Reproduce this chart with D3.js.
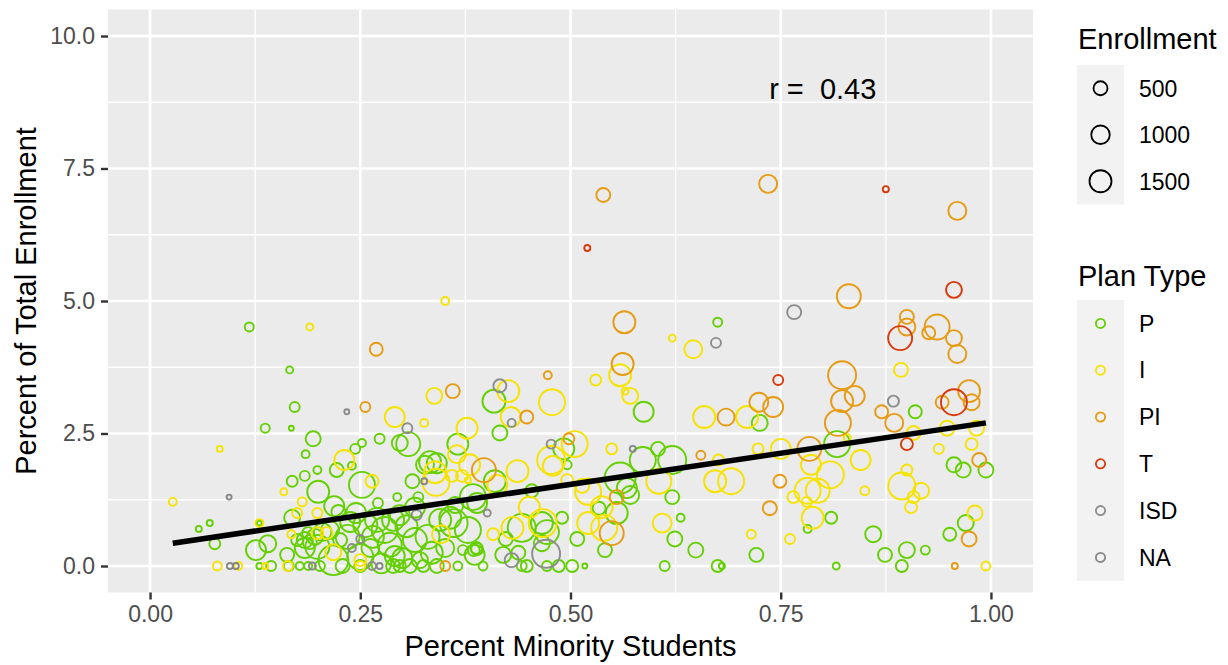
<!DOCTYPE html>
<html>
<head>
<meta charset="utf-8">
<script src="https://cdn.jsdelivr.net/npm/d3@7"></script>
<style>
  body { margin: 0; background: #ffffff; }
  svg text { font-family: "Liberation Sans", Arial, Helvetica, sans-serif; }
</style>
</head>
<body>
<div id="chart"></div>
<script>
// plan types and their colours
var planTypes = ['P', 'I', 'PI', 'T', 'ISD', 'NA'];
var planColors = ['#64D003', '#F6E300', '#E69B12', '#D93A0B', '#8C8C8C', '#878787'];

// [percent minority, percent of total enrollment, enrollment]
var pointsP = [
  [.118,4.51,150],[.166,3.70,64],[.172,3.00,200],[.137,2.60,150],[.168,2.60,15],[.194,2.40,600],
  [.185,2.11,100],[.273,2.40,200],[.252,2.32,100],[.244,2.21,200],[.240,1.89,100],[.222,1.81,500],
  [.199,1.81,100],[.184,1.70,200],[.169,1.60,260],[.200,1.40,1500],[.252,1.53,2200],[.169,0.91,700],
  [.071,0.81,36],[.058,0.70,36],[.130,0.81,15],[.077,0.42,260],[.126,0.30,1200],[.140,0.42,810],
  [.163,0.21,500],[.199,0.36,1830],[.218,0.11,3000],[.219,1.13,1200],[.224,1.02,500],[.130,0,36],
  [.144,0,200],[.165,0,200],[.178,0,100],[.188,0,100],[.202,0,200],[.289,0.87,1500],
  [.270,0.87,1830],[.294,1.30,100],[.297,2.32,700],[.250,0.17,2200],[.184,0.49,700],[.205,0.64,930],
  [.226,0.49,500],[.175,0.49,333],[.184,0.34,1200],[.190,0.45,500],[.188,0.62,333],[.196,0.55,700],
  [.319,1.30,200],[.271,1.19,200],[.256,0.77,1830],[.279,0.68,2200],[.297,0.96,1200],[.315,0.49,1830],
  [.345,0.87,1500],[.363,1.15,700],[.378,0.68,2200],[.386,0.21,1200],[.351,0.34,930],[.321,0.11,700],
  [.291,0.19,1200],[.262,0.34,930],[.238,0.83,1200],[.214,0.68,930],[.372,0.30,200],[.385,0.30,333],
  [.229,0,500],[.250,0,333],[.289,0,500],[.297,0,333],[.309,0,500],[.325,0,333],[.341,0,500],
  [.366,0,147],[.396,0,147],[.442,0,200],[.448,0,333],[.472,0,200],[.486,0,333],[.502,0,333],
  [.517,0,15],[.389,0.32,333],[.366,2.30,1345],[.307,2.30,1830],[.333,1.96,1500],[.341,1.94,1200],
  [.327,1.91,930],[.312,1.60,500],[.409,3.11,1660],[.416,2.51,595],[.492,2.21,1345],[.496,1.91,147],
  [.410,1.60,1500],[.454,1.42,412],[.389,1.19,1200],[.466,0.81,1500],[.472,0.64,1830],[.490,0.91,333],
  [.442,0.72,2600],[.384,1.30,2200],[.361,0.81,2600],[.357,0.91,1500],[.555,1.00,1500],[.534,1.09,412],
  [.423,0.51,500],[.541,0.30,500],[.508,0.51,500],[.466,0.43,700],[.420,0.21,700],[.438,0.25,500],
  [.388,0.34,333],[.559,1.66,3265],[.567,1.47,1200],[.571,1.34,930],[.587,2.91,1200],[.586,2.00,2200],
  [.604,2.21,500],[.621,2.00,2600],[.621,1.30,500],[.631,0.91,100],[.624,0.51,595],[.649,0.30,595],
  [.612,0,200],[.675,0,333],[.680,0,36],[.721,0.21,500],[.725,2.70,700],[.675,4.60,147],
  [.782,0.70,100],[.810,0.91,333],[.816,0,64],[.817,2.30,2200],[.860,0.60,700],[.874,0.21,500],
  [.900,0.30,700],[.922,0.30,147],[.894,0,333],[.910,2.91,412],[.951,0.60,412],[.970,0.81,700],
  [.956,1.91,595],[.967,1.81,595],[.994,1.81,595],
  [.235,0.55,1830],[.265,0.55,1500],[.285,0.40,1830],[.305,0.75,1500],[.330,0.55,1830],
  [.300,0.15,1200],[.335,0.25,1500],[.275,0.05,1200],[.245,1.00,1200],[.315,1.10,1200]
];
var pointsI = [
  [.190,4.51,64],[.351,5.00,100],[.621,4.30,64],[.646,4.09,930],[.559,3.60,1500],[.530,3.51,263],
  [.565,3.30,64],[.571,3.21,700],[.426,3.30,1500],[.478,3.09,2200],[.338,3.21,700],[.291,2.81,1200],
  [.326,2.70,100],[.429,2.81,1200],[.377,2.60,1345],[.505,2.30,2200],[.477,2.00,2600],[.479,1.89,1200],
  [.549,2.21,263],[.605,1.60,2010],[.496,1.62,333],[.514,1.51,500],[.521,1.40,2200],[.537,1.11,1500],
  [.521,0.81,1500],[.540,0.72,2200],[.451,1.11,1345],[.467,0.81,2600],[.431,0.72,1500],[.408,0.60,333],
  [.437,1.79,1500],[.413,1.53,1200],[.380,1.91,1345],[.365,2.11,930],[.340,1.58,2400],[.339,1.77,1500],
  [.359,1.70,333],[.371,1.70,333],[.378,1.62,36],[.346,0.60,930],[.231,2.00,1200],[.264,1.60,412],
  [.083,2.21,36],[.159,1.40,64],[.181,1.21,147],[.027,1.21,100],[.175,1.00,200],[.199,1.00,200],
  [.130,0.81,100],[.168,0.60,100],[.199,0.62,333],[.210,0.62,333],[.218,0.26,700],[.250,0.11,333],
  [.080,0,147],[.105,0,100],[.137,0,36],[.164,0,200],[.250,0,200],[.659,2.81,1500],
  [.710,2.81,1500],[.676,2.00,263],[.672,1.60,1500],[.691,1.60,2200],[.723,2.21,263],[.750,2.21,1200],
  [.786,1.91,1200],[.609,0.81,1060],[.715,0.60,147],[.761,0.51,200],[.765,1.30,333],[.782,1.42,2200],
  [.794,1.42,1830],[.781,1.21,200],[.788,0.91,1500],[.809,1.72,2400],[.829,2.42,64],[.845,2.00,1200],
  [.850,1.42,147],[.894,1.51,2400],[.900,1.81,263],[.917,1.42,700],[.908,1.30,333],[.905,1.11,333],
  [.893,3.70,500],[.908,2.51,500],[.948,2.60,595],[.983,2.60,595],[.977,2.30,333],[.938,2.21,200],
  [.981,1.00,595],[.994,0,147]
];
var pointsPI = [
  [.539,7.00,500],[.735,7.21,930],[.960,6.70,930],[.831,5.09,1830],[.564,4.60,1500],[.269,4.09,412],
  [.562,3.81,1500],[.473,3.60,100],[.360,3.30,500],[.256,3.00,200],[.448,2.81,412],[.498,2.40,263],
  [.397,1.81,1830],[.555,1.30,500],[.549,0.62,1830],[.351,0,200],[.685,2.81,810],[.724,3.09,1060],
  [.741,3.00,1200],[.655,2.09,147],[.749,1.60,412],[.737,1.09,500],[.784,2.21,1830],[.823,3.60,2600],
  [.823,3.11,1500],[.838,3.21,1200],[.818,2.70,2200],[.870,2.91,412],[.885,2.70,930],[.900,4.70,500],
  [.900,4.51,810],[.936,4.51,2010],[.926,4.40,412],[.956,4.30,700],[.960,4.00,930],[.942,3.09,412],
  [.974,3.30,1500],[.977,3.09,700],[.986,2.00,500],[.974,0.51,595],[.957,0,36]
];
var pointsT = [
  [.875,7.11,36],[.520,6.00,36],[.956,5.21,700],[.892,4.30,1830],[.747,3.51,200],[.956,3.09,2200],
  [.900,2.30,333]
];
var pointsISD = [
  [.766,4.79,500],[.673,4.21,200],[.416,3.40,412],[.306,2.60,200],[.430,2.70,100],[.477,2.30,147],
  [.884,3.11,263],[.234,2.91,15],[.401,1.00,64],[.471,0.23,2600],[.430,0.11,500],[.250,0.51,100],
  [.240,0.34,100],[.264,0,100]
];
var pointsNA = [
  [.574,2.21,36],[.094,1.30,15],[.326,1.60,36],[.317,0.96,200],[.095,0,36],[.102,0,36],
  [.193,0,64],[.273,0,36]
];

// fitted line end points and correlation label
var fitX = [0.027, 0.994];
var fitY = [0.43, 2.70];
var corrLabel = 'r =  0.43';
var corrPos = [0.80, 9.0];

// axes
var xTicks = [0, 0.25, 0.5, 0.75, 1];
var xTickLabels = ['0.00', '0.25', '0.50', '0.75', '1.00'];
var xMinor = [0.125, 0.375, 0.625, 0.875];
var yTicks = [0, 2.5, 5, 7.5, 10];
var yTickLabels = ['0.0', '2.5', '5.0', '7.5', '10.0'];
var yMinor = [1.25, 3.75, 6.25, 8.75];
var sizeBreaks = [500, 1000, 1500];

function drawChart() {
    var width = 1228, height = 665;
    var panel = { left: 108, right: 1033, top: 9.5, bottom: 592.5 };

    var svg = d3.select('#chart').append('svg')
        .attr('width', width)
        .attr('height', height);

    var x = d3.scaleLinear().domain([-0.05, 1.05]).range([panel.left, panel.right]);
    var y = d3.scaleLinear().domain([-0.5, 10.5]).range([panel.bottom, panel.top]);
    var size = d3.scaleSqrt().domain([0, 1500]).range([1.54, 11]);
    var color = d3.scaleOrdinal().domain(planTypes).range(planColors);

    // panel background + grid
    svg.append('rect')
        .attr('x', panel.left).attr('y', panel.top)
        .attr('width', panel.right - panel.left)
        .attr('height', panel.bottom - panel.top)
        .attr('fill', '#EBEBEB');

    var grid = svg.append('g');
    grid.selectAll('line.xminor').data(xMinor).enter().append('line')
        .attr('x1', function(d) { return x(d); }).attr('x2', function(d) { return x(d); })
        .attr('y1', panel.top).attr('y2', panel.bottom)
        .attr('stroke', '#fff').attr('stroke-width', 1.3);
    grid.selectAll('line.yminor').data(yMinor).enter().append('line')
        .attr('y1', function(d) { return y(d); }).attr('y2', function(d) { return y(d); })
        .attr('x1', panel.left).attr('x2', panel.right)
        .attr('stroke', '#fff').attr('stroke-width', 1.3);
    grid.selectAll('line.xmajor').data(xTicks).enter().append('line')
        .attr('x1', function(d) { return x(d); }).attr('x2', function(d) { return x(d); })
        .attr('y1', panel.top).attr('y2', panel.bottom)
        .attr('stroke', '#fff').attr('stroke-width', 2.7);
    grid.selectAll('line.ymajor').data(yTicks).enter().append('line')
        .attr('y1', function(d) { return y(d); }).attr('y2', function(d) { return y(d); })
        .attr('x1', panel.left).attr('x2', panel.right)
        .attr('stroke', '#fff').attr('stroke-width', 2.7);

    // points
    var series = [pointsP, pointsI, pointsPI, pointsT, pointsISD, pointsNA];
    var pts = svg.append('g');
    series.forEach(function(arr, i) {
        pts.append('g').selectAll('circle').data(arr).enter().append('circle')
            .attr('cx', function(d) { return x(d[0]); })
            .attr('cy', function(d) { return y(d[1]); })
            .attr('r', function(d) { return size(d[2]); })
            .attr('fill', 'none')
            .attr('stroke', color(planTypes[i]))
            .attr('stroke-width', 1.9);
    });

    // fitted line
    svg.append('line')
        .attr('x1', x(fitX[0])).attr('y1', y(fitY[0]))
        .attr('x2', x(fitX[1])).attr('y2', y(fitY[1]))
        .attr('stroke', '#000').attr('stroke-width', 5.5);

    svg.append('text')
        .attr('x', x(corrPos[0])).attr('y', y(corrPos[1]))
        .attr('dy', '0.36em')
        .attr('text-anchor', 'middle')
        .style('white-space', 'pre')
        .style('font-size', '29px')
        .attr('fill', '#000')
        .text(corrLabel);

    // axes
    var xAxis = svg.append('g')
        .attr('transform', 'translate(0,' + panel.bottom + ')')
        .call(d3.axisBottom(x).tickValues(xTicks).tickSize(7).tickPadding(6)
              .tickFormat(function(d, i) { return xTickLabels[i]; }));
    var yAxis = svg.append('g')
        .attr('transform', 'translate(' + panel.left + ',0)')
        .call(d3.axisLeft(y).tickValues(yTicks).tickSize(7).tickPadding(6)
              .tickFormat(function(d, i) { return yTickLabels[i]; }));
    [xAxis, yAxis].forEach(function(a) {
        a.select('.domain').remove();
        a.selectAll('.tick line').attr('stroke', '#333333').attr('stroke-width', 2.4);
        a.selectAll('.tick text')
            .attr('fill', '#4D4D4D')
            .style('font-size', '23px')
            .style('font-family', '"Liberation Sans", Arial, sans-serif');
    });

    svg.append('text')
        .attr('x', (panel.left + panel.right) / 2).attr('y', 656)
        .attr('text-anchor', 'middle')
        .style('font-size', '29px')
        .text('Percent Minority Students');
    svg.append('text')
        .attr('transform', 'translate(36,' + ((panel.top + panel.bottom) / 2) + ') rotate(-90)')
        .attr('text-anchor', 'middle')
        .style('font-size', '29px')
        .text('Percent of Total Enrollment');

    // legends
    var keyX = 1077, keyW = 47, keyH = 46.5;
    var leg1 = svg.append('g');
    leg1.append('text').attr('x', 1078).attr('y', 49)
        .style('font-size', '29px').text('Enrollment');
    leg1.append('rect').attr('x', keyX).attr('y', 65)
        .attr('width', keyW).attr('height', keyH * sizeBreaks.length)
        .attr('fill', '#F2F2F2');
    var k1 = leg1.selectAll('g.key').data(sizeBreaks).enter().append('g')
        .attr('transform', function(d, i) { return 'translate(0,' + (65 + keyH * (i + 0.5)) + ')'; });
    k1.append('circle').attr('cx', keyX + keyW / 2).attr('cy', 0)
        .attr('r', function(d) { return size(d); })
        .attr('fill', 'none').attr('stroke', '#000').attr('stroke-width', 1.8);
    k1.append('text').attr('x', 1139).attr('dy', '0.36em')
        .style('font-size', '23px').text(function(d) { return d; });

    var leg2 = svg.append('g');
    leg2.append('text').attr('x', 1078).attr('y', 286)
        .style('font-size', '29px').text('Plan Type');
    leg2.append('rect').attr('x', keyX).attr('y', 300)
        .attr('width', keyW).attr('height', 46.8 * planTypes.length)
        .attr('fill', '#F2F2F2');
    var k2 = leg2.selectAll('g.key').data(planTypes).enter().append('g')
        .attr('transform', function(d, i) { return 'translate(0,' + (300 + 46.8 * (i + 0.5)) + ')'; });
    k2.append('circle').attr('cx', keyX + keyW / 2).attr('cy', 0)
        .attr('r', 4.6)
        .attr('fill', 'none').attr('stroke', function(d) { return color(d); }).attr('stroke-width', 1.8);
    k2.append('text').attr('x', 1139).attr('dy', '0.36em')
        .style('font-size', '23px').text(function(d) { return d; });
}

drawChart();
</script>
</body>
</html>
